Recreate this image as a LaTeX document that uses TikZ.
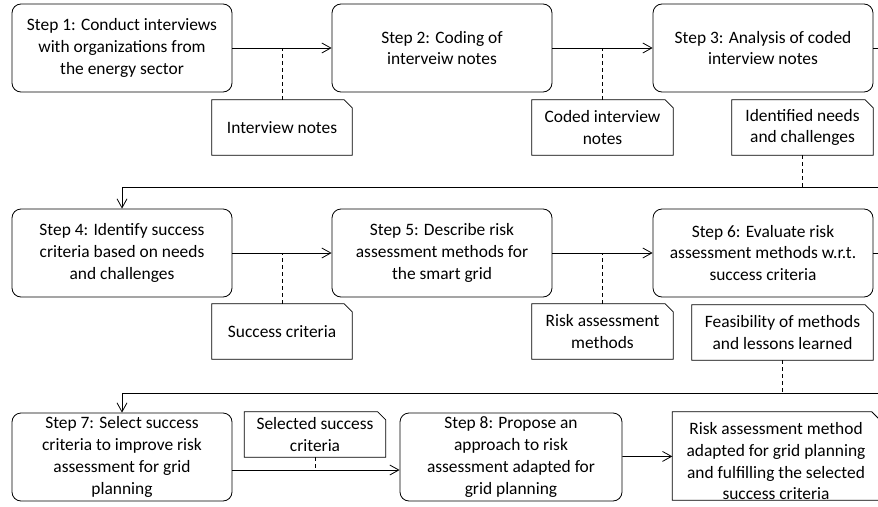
\documentclass[tikz,border=0pt]{standalone}
\usepackage{fontspec}
\setmainfont{Carlito}
\usepackage{tikz}
\usetikzlibrary{positioning,calc,arrows.meta}

\begin{document}
\begin{tikzpicture}[x=1pt,y=-1pt,
    stepnode/.style={draw, rounded corners=9pt, line width=0.8pt, minimum width=220pt, minimum height=88pt, inner sep=0pt, align=center, font=\fontsize{17.4}{21.8}\selectfont},
    docnode/.style={inner sep=0pt, align=center, font=\fontsize{17.4}{21.8}\selectfont},
    arr/.style={line width=0.8pt, -{Straight Barb[length=9pt,width=10pt]}},
    dashline/.style={line width=0.6pt, dash pattern=on 4pt off 3pt}]
            \useasboundingbox (0,0) rectangle (878,506);
            % steps
            \node[stepnode] (s1) at (122,48) {Step 1: Conduct interviews\\with organizations from\\the energy sector};
            \node[stepnode] (s2) at (442,48) {Step 2: Coding of\\interveiw notes};
            \node[stepnode] (s3) at (763,48) {Step 3: Analysis of coded\\interview notes};
            \node[stepnode] (s4) at (122,253) {Step 4: Identify success\\criteria based on needs\\and challenges};
            \node[stepnode] (s5) at (442,253) {Step 5: Describe risk\\assessment methods for\\the smart grid};
            \node[stepnode] (s6) at (763,253) {Step 6: Evaluate risk\\assessment methods w.r.t.\\success criteria};
            \node[stepnode] (s7) at (122,457) {Step 7: Select success\\criteria to improve risk\\assessment for grid\\planning};
            \node[stepnode, minimum width=222pt] (s8) at (511,457) {Step 8: Propose an\\approach to risk\\assessment adapted for\\grid planning};
            % documents
            \node[docnode, minimum width=140pt, minimum height=55pt] (d1) at (282,127.5) {Interview notes};
            \node[docnode, minimum width=141pt, minimum height=55pt] (d2) at (602.5,127.5) {Coded interview\\notes};
            \node[docnode, minimum width=141pt, minimum height=55pt] (d3) at (802.5,127.5) {Identified needs\\and challenges};
            \node[docnode, minimum width=140pt, minimum height=55pt] (d4) at (282,331.5) {Success criteria};
            \node[docnode, minimum width=141pt, minimum height=55pt] (d5) at (602.5,331.5) {Risk assessment\\methods};
            \node[docnode, minimum width=181pt, minimum height=55pt] (d6) at (782.5,332.5) {Feasibility of methods\\and lessons learned};
            \node[docnode, minimum width=141pt, minimum height=45pt] (d7) at (315,434.5) {Selected success\\criteria};
            \node[docnode, minimum width=207pt, minimum height=88pt, text height=88pt] (d8) at (776,456) {Risk assessment method\\adapted for grid planning\\and fulfilling the selected\\success criteria};
            \foreach \d in {d1,d2,d3,d4,d5,d6,d7,d8}
                \draw[line width=0.8pt] (\d.south west) -- (\d.north west) -- ([xshift=-8pt]\d.north east) -- ([yshift=-8pt]\d.north east) -- (\d.south east) -- cycle;
            % flow
            \coordinate (r1) at (890,187);
            \coordinate (r2) at (890,393);
            \coordinate (a7) at ([yshift=-13pt]s7.east);
            \draw[arr] (s1) -- (s2);
            \draw[arr] (s2) -- (s3);
            \draw[arr] (s3.east) -| (r1) -| (s4.north);
            \draw[arr] (s4) -- (s5);
            \draw[arr] (s5) -- (s6);
            \draw[arr] (s6.east) -| (r2) -| (s7.north);
            \draw[arr] (a7) -- (a7 -| s8.west);
            \draw[arr] (s8) -- (d8);
            % outputs
            \draw[dashline] (d1.north) -- (d1.north |- s1.east);
            \draw[dashline] (d2.north) -- (d2.north |- s2.east);
            \draw[dashline] (d3.south) -- (d3.south |- r1);
            \draw[dashline] (d4.north) -- (d4.north |- s4.east);
            \draw[dashline] (d5.north) -- (d5.north |- s5.east);
            \draw[dashline] (d6.south) -- (d6.south |- r2);
            \draw[dashline] (d7.south) -- (d7.south |- a7);
        \end{tikzpicture}
\end{document}
